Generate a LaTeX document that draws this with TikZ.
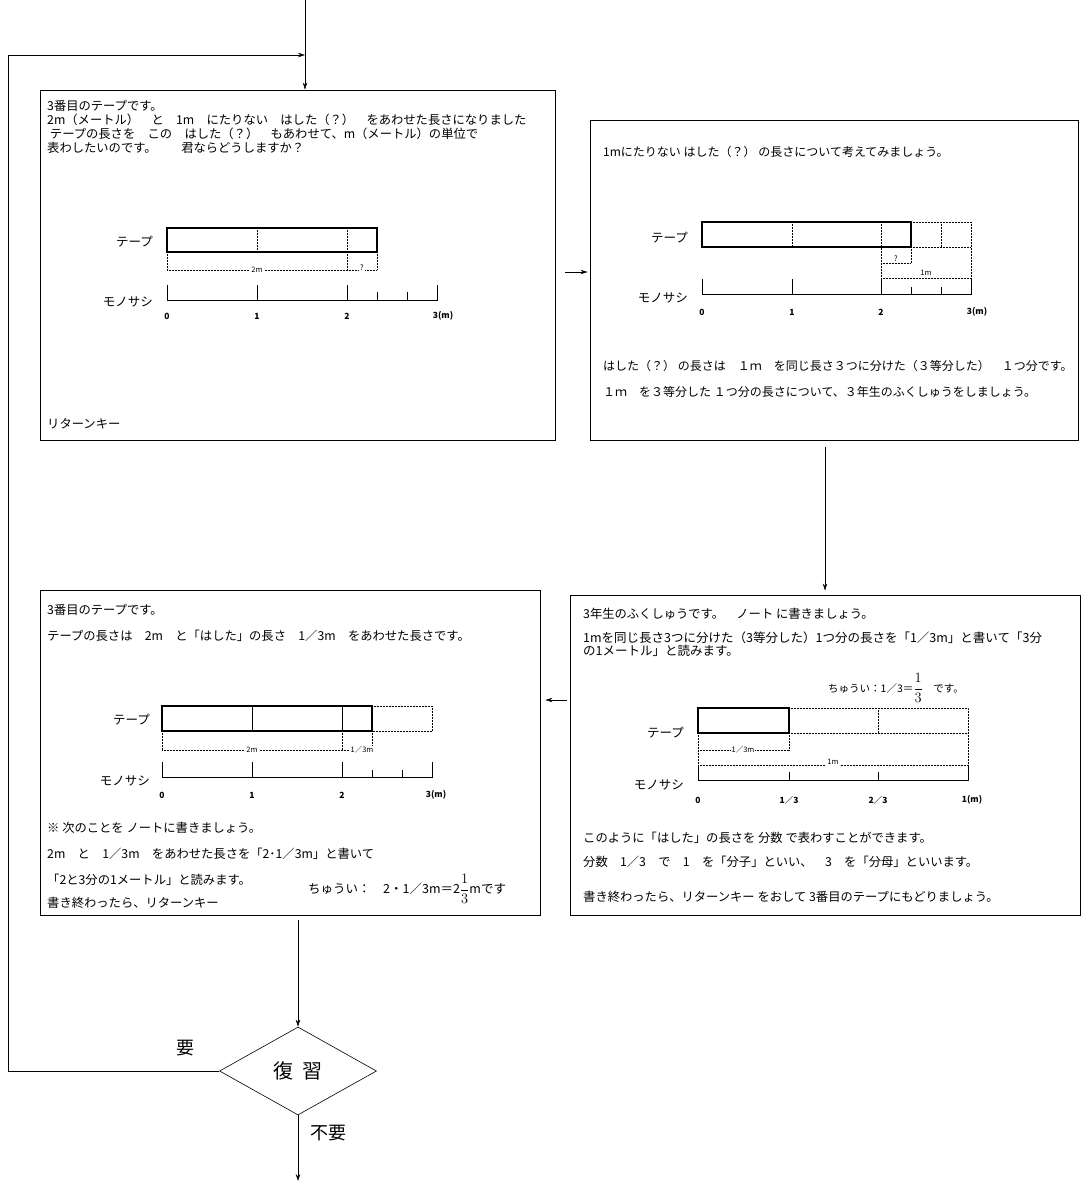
\documentclass[tikz,border=0pt]{standalone}
\usepackage{fontspec}
\setmainfont{Noto Sans CJK JP}
\usetikzlibrary{arrows.meta,shapes.geometric}

\begin{document}
\begin{tikzpicture}[x=1pt,y=-1pt,
  panel/.style={draw,line width=0.9pt,inner sep=0pt},
  flow/.style={-{Stealth[length=7pt,width=4.5pt]},line width=0.6pt},
  txt/.style={anchor=west,inner sep=0pt,align=left,font=\fontsize{12.3}{14}\selectfont},
  lbl/.style={anchor=east,inner sep=0pt,font=\fontsize{12.5}{13}\selectfont},
  num/.style={inner sep=0pt,font=\fontsize{8.5}{9}\selectfont\bfseries},
  dim/.style={inner sep=1pt,fill=white,font=\fontsize{7.5}{8}\selectfont},
  tape/.style={line width=1.1pt},
  aux/.style={densely dotted,line width=0.5pt},
  rule/.style={line width=0.9pt}]
\useasboundingbox (0,0) rectangle (1084,1183);

\node[panel,minimum width=515pt,minimum height=350pt] (p1) at (297.5,265) {};
\node[panel,minimum width=488pt,minimum height=320pt] (p2) at (834,280) {};
\node[panel,minimum width=500pt,minimum height=325pt] (p3) at (290,752.5) {};
\node[panel,minimum width=510pt,minimum height=320pt] (p4) at (825,755) {};
\node[draw,diamond,line width=0.6pt,minimum width=157pt,minimum height=88pt,inner sep=0pt,font=\fontsize{20}{22}\selectfont] (q) at (298,1071) {復\hspace{0.45em}習};
\node[inner sep=0pt,font=\fontsize{18}{19}\selectfont] (yes) at (185,1048) {要};
\node[inner sep=0pt,font=\fontsize{18}{19}\selectfont] (no) at (328,1133) {不要};

\coordinate (in) at (305,0);
\coordinate (join) at (305,55);
\coordinate (corner) at (8,55);
\coordinate (out) at (298,1181);
\draw[flow] (in) -- (in |- p1.north);
\draw[flow] (q.west) -| (corner) -- (join);
\draw[flow] ([xshift=10pt,yshift=-7pt]p1.east) -- ([xshift=-2pt,yshift=8pt]p2.west);
\draw[flow,shorten <=7pt,shorten >=4pt] (p4.north |- p2.south) -- (p4.north);
\draw[flow] ([xshift=-3pt,yshift=55pt]p4.west) -- ([xshift=5pt,yshift=52.5pt]p3.east);
\draw[flow,shorten <=5pt] (q.north |- p3.south) -- (q.north);
\draw[flow] (q.south) -- (out);

\node[txt,anchor=north west,font=\fontsize{12.3}{14}\selectfont] (t1) at (47,100) {3番目のテープです。\\2m（メートル）　と　1m　にたりない　はした（？）　をあわせた長さになりました\\\ テープの長さを　この　はした（？）　もあわせて、m（メートル）の単位で\\表わしたいのです。　　君ならどうしますか？};
\node[lbl] (tp1) at (153,242) {テープ};
\node[lbl] (ms1) at (153,302) {モノサシ};
\draw[tape] (167,228) rectangle (377,252);
\draw[aux] (257,228) -- (257,252) (347,228) -- (347,270) (167,252) -- (167,270) (377,252) -- (377,270) (167,270) -- (377,270);
\node[dim] (d1a) at (257,270) {2m};
\node[dim] (d1b) at (362,268) {?};
\draw[rule] (167,285) -- (167,300) -- (437,300) -- (437,285);
\foreach \x in {257,347} \draw[rule] (\x,285) -- (\x,300);
\foreach \x in {377,407} \draw[rule] (\x,292) -- (\x,300);
\foreach \x/\v in {167/0,257/1,347/2,443/3(m)} \node[num] at (\x,316) {\v};
\node[txt] (t1r) at (47,424) {リターンキー};

\node[txt,font=\fontsize{12}{14}\selectfont] (t2) at (603,152) {1mにたりない はした（？） の長さについて考えてみましょう。};
\node[lbl] (tp2) at (688,238) {テープ};
\node[lbl] (ms2) at (688,298) {モノサシ};
\draw[tape] (702,222) rectangle (911,247);
\draw[aux] (792,222) -- (792,247) (881,222) -- (881,294) (911,222) -- (971,222) -- (971,294) (911,247) -- (971,247) (941,222) -- (941,247)
  (911,247) -- (911,263) (881,263) -- (911,263) (881,278) -- (971,278);
\node[dim] (d2a) at (896,259) {?};
\node[dim] (d2b) at (926,273) {1m};
\draw[rule] (702,279) -- (702,294) -- (971,294) -- (971,279);
\foreach \x in {792,881} \draw[rule] (\x,279) -- (\x,294);
\foreach \x in {911,941} \draw[rule] (\x,287) -- (\x,294);
\foreach \x/\v in {702/0,792/1,881/2,977/3(m)} \node[num] at (\x,312) {\v};
\node[txt,font=\fontsize{12}{14}\selectfont] (t2b) at (603,366) {はした（？） の長さは　１ｍ　を同じ長さ３つに分けた（３等分した）　１つ分です。};
\node[txt,font=\fontsize{12}{14}\selectfont] (t2c) at (603,392) {１ｍ　を３等分した １つ分の長さについて、３年生のふくしゅうをしましょう。};

\node[txt] (t3) at (47,610) {3番目のテープです。};
\node[txt] (t3b) at (47,636) {テープの長さは　2m　と「はした」の長さ　1／3m　をあわせた長さです。};
\node[lbl] (tp3) at (150,720) {テープ};
\node[lbl] (ms3) at (150,781) {モノサシ};
\draw[tape] (162,706) rectangle (372,731);
\draw[line width=0.8pt] (252,706) -- (252,731) (342,706) -- (342,731);
\draw[aux] (372,706) -- (432,706) -- (432,731) -- (372,731)
  (162,731) -- (162,750) (342,731) -- (342,750) (372,731) -- (372,750) (162,750) -- (372,750);
\node[dim] (d3a) at (252,750) {2m};
\node[dim] (d3b) at (362,750) {1∕3m};
\draw[rule] (162,762) -- (162,777) -- (432,777) -- (432,762);
\foreach \x in {252,342} \draw[rule] (\x,762) -- (\x,777);
\foreach \x in {372,402} \draw[rule] (\x,770) -- (\x,777);
\foreach \x/\v in {162/0,252/1,342/2,436/3(m)} \node[num] at (\x,795) {\v};
\node[txt] (t3c) at (47,828) {※ 次のことを ノートに書きましょう。};
\node[txt] (t3d) at (47,854) {2m　と　1／3m　をあわせた長さを「2･1／3m」と書いて};
\node[txt] (t3e) at (47,880) {「2と3分の1メートル」と読みます。};
\node[txt] (t3f) at (47,903) {書き終わったら、リターンキー};
\node[txt,font=\fontsize{12.5}{14}\selectfont] (t3g) at (308,889) {ちゅうい：　2・1／3m＝2{\fontsize{14.5}{16}\selectfont$\displaystyle\frac{1}{3}$}mです};

\node[txt] (t4) at (583,614) {3年生のふくしゅうです。　ノート に書きましょう。};
\node[txt,font=\fontsize{12.5}{12.5}\selectfont] (t4b) at (583,644) {1mを同じ長さ3つに分けた（3等分した）1つ分の長さを「1／3m」と書いて「3分\\の1メートル」と読みます。};
\node[txt,font=\fontsize{10.5}{12}\selectfont] (t4c) at (828,688) {ちゅうい：1／3＝{\fontsize{14}{15}\selectfont$\displaystyle\frac{1}{3}$}　です。};
\node[lbl] (tp4) at (684,733) {テープ};
\node[lbl] (ms4) at (684,785) {モノサシ};
\draw[tape] (698,708) rectangle (789,733);
\draw[aux] (789,708) -- (968,708) -- (968,765) (789,733) -- (968,733) (878,708) -- (878,733)
  (698,733) -- (698,765) (789,733) -- (789,750) (698,750) -- (789,750) (698,765) -- (968,765);
\node[dim] (d4a) at (743,750) {1∕3m};
\node[dim] (d4b) at (833,762) {1m};
\draw[rule] (698,765) -- (698,780) -- (968,780) -- (968,765);
\foreach \x in {789,878} \draw[rule] (\x,772) -- (\x,780);
\foreach \x/\v in {698/0,789/1／3,878/2／3,972/1(m)} \node[num] at (\x,800) {\v};
\node[txt] (t4d) at (583,838) {このように「はした」の長さを 分数 で表わすことができます。};
\node[txt] (t4e) at (583,862) {分数　1／3　で　1　を「分子」といい、　3　を「分母」といいます。};
\node[txt] (t4f) at (583,897) {書き終わったら、リターンキー をおして 3番目のテープにもどりましょう。};
\end{tikzpicture}
\end{document}
